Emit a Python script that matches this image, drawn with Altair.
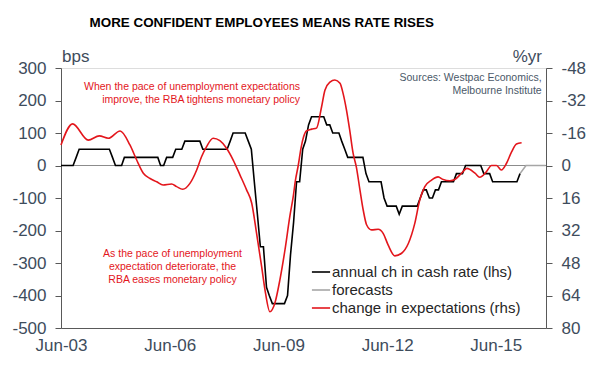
import altair as alt
import pandas as pd

# ---------------- data ----------------
# annual change in cash rate (bps), monthly from Jun-03 to Feb-16
cash_values = (
    [0, 0, 0, 0, 0, 25, 50]                                            # 2003 Jun-Dec
    + [50, 50, 50, 50, 50, 50, 50, 50, 50, 50, 25, 0]                  # 2004
    + [0, 0, 25, 25, 25, 25, 25, 25, 25, 25, 25, 25]                   # 2005
    + [25, 25, 0, 0, 25, 25, 25, 50, 50, 50, 75, 75]                   # 2006
    + [75, 75, 75, 75, 50, 50, 50, 50, 50, 50, 50, 50]                 # 2007
    + [50, 75, 100, 100, 100, 100, 100, 75, 50, -50, -150, -250]       # 2008
    + [-250, -375, -400, -425, -425, -425, -425, -425, -400, -275, -175, -50]  # 2009
    + [-50, 50, 75, 125, 150, 150, 150, 150, 150, 125, 125, 100]       # 2010
    + [100, 100, 75, 50, 25, 25, 25, 25, 25, 25, -25, -50]             # 2011
    + [-50, -50, -50, -50, -100, -125, -125, -125, -125, -150, -125, -125]  # 2012
    + [-125, -125, -125, -125, -100, -75, -75, -100, -100, -75, -75, -50]   # 2013
    + [-50, -50, -50, -50, -25, -25, -25, 0, 0, 0, 0, 0]               # 2014
    + [0, -25, -25, -25, -50, -50, -50, -50, -50, -50, -50, -50]       # 2015
    + [-50, -25]                                                       # 2016 Jan-Feb
)
cash_dates = [d.strftime("%Y-%m-%d") for d in pd.date_range("2003-06-01", periods=len(cash_values), freq="MS")]

# forecasts (bps)
fc_dates = ["2016-02-01", "2016-04-01", "2016-06-01", "2016-08-01", "2016-10-15"]
fc_values = [-25, 0, 0, 0, 0]

# change in unemployment expectations (%yr, rhs, inverted)
red_dates = [
    "2003-06-01", "2003-09-26", "2004-03-02", "2004-06-21", "2004-09-20", "2005-01-17",
    "2005-04-26", "2005-07-03", "2005-09-08", "2005-11-15", "2006-01-21", "2006-03-26",
    "2006-06-20", "2006-08-10", "2006-10-10", "2006-12-22", "2007-02-28", "2007-04-18",
    "2007-06-08", "2007-08-13", "2007-10-20", "2007-12-26", "2008-03-02", "2008-05-09",
    "2008-07-15", "2008-09-05", "2008-10-24", "2008-12-14", "2009-01-17", "2009-03-07",
    "2009-04-26", "2009-06-16", "2009-08-06", "2009-09-25", "2009-10-28", "2009-11-20",
    "2009-12-18", "2010-01-15", "2010-02-10", "2010-03-11", "2010-05-01", "2010-06-20",
    "2010-08-10", "2010-09-13", "2010-11-03", "2010-12-22", "2011-02-12", "2011-03-15",
    "2011-04-18", "2011-05-21", "2011-06-24", "2011-07-27", "2011-09-01", "2011-10-04",
    "2011-11-08", "2011-12-27", "2012-03-03", "2012-04-22", "2012-06-12", "2012-08-18",
    "2012-10-25", "2013-01-01", "2013-03-07", "2013-04-26", "2013-06-16", "2013-08-23",
    "2013-10-28", "2013-12-18", "2014-02-25", "2014-04-14", "2014-06-21", "2014-08-14",
    "2014-11-04", "2014-12-22", "2015-02-28", "2015-04-19", "2015-06-09", "2015-07-28",
    "2015-09-18", "2015-11-08", "2015-12-27", "2016-02-17",
]
red_values = [
    -10.1, -20.5, -12.5, -14.6, -13.4, -17.0,
    -10.1, -2.7, 3.8, 6.4, 8.0, 9.6,
    9.1, 10.4, 11.7, 8.8, 2.2, -4.3,
    -9.3, -13.4, -12.2, -8.5, -2.7, 4.6,
    12.0, 18.6, 33.4, 49.8, 61.3, 72.0,
    67.8, 56.3, 41.6, 24.8, 15.5, 7.2,
    0.0, -8.6, -14.1, -17.0, -17.9, -18.4,
    -28.8, -37.1, -41.1, -42.1, -40.5, -35.5,
    -27.4, -17.4, -6.1, 0.8, 12.0, 21.9,
    29.3, 31.7, 31.4, 33.4, 39.2, 44.5,
    43.2, 38.4, 28.5, 17.0, 10.4, 7.2,
    5.6, 6.9, 7.5, 6.9, 3.8, 1.4,
    3.8, 5.8, 3.0, 0.0, 0.0, 2.2,
    -1.1, -6.7, -10.6, -11.2,
]

series_names = ["annual ch in cash rate (lhs)", "forecasts", "change in expectations (rhs)"]
series_colors = ["#000000", "#A6A6A6", "#E3161C"]
series_widths = [1.6, 1.6, 3.4]

left_ticks = [-500, -400, -300, -200, -100, 0, 100, 200, 300]
right_ticks = [-48, -32, -16, 0, 16, 32, 48, 64, 80]
x_tick_years = [2003, 2006, 2009, 2012, 2015]
zero_level = [0]

cash_df = pd.DataFrame({"date": cash_dates, "value": cash_values, "series": series_names[0]})
fc_df = pd.DataFrame({"date": fc_dates, "value": fc_values, "series": series_names[1]})
red_df = pd.DataFrame({"date": red_dates, "value": red_values, "series": series_names[2]})
zero_df = pd.DataFrame({"value": zero_level})
dummy = pd.DataFrame({"a": [0]})

# ---------------- styles ----------------
AXIS_COL = "#3E4C5C"
LINE_COL = "#595959"
FONT = "Liberation Sans"

x_enc = alt.X(
    "date:T",
    scale=alt.Scale(
        type="utc",
        domain=[alt.DateTime(year=2003, month=6, date=1, utc=True),
                alt.DateTime(year=2016, month=10, date=20, utc=True)],
    ),
    axis=alt.Axis(
        values=[alt.DateTime(year=y, month=6, date=1, utc=True) for y in x_tick_years],
        format="%b-%y", ticks=False, grid=False, title=None,
        labelFontSize=17, labelFont=FONT, labelColor=AXIS_COL, labelPadding=9,
        domainColor=LINE_COL, labelFlush=False, labelOverlap=False,
    ),
)

legend = alt.Legend(
    orient="none", legendX=250, legendY=194, symbolType="stroke", symbolSize=330,
    labelFontSize=15, labelFont=FONT, labelColor="#262626", rowPadding=-1,
    labelOffset=1, padding=0, labelLimit=0, title=None,
)
color_enc = alt.Color("series:N", scale=alt.Scale(domain=series_names, range=series_colors), legend=legend)
width_enc = alt.StrokeWidth("series:N", scale=alt.Scale(domain=series_names, range=series_widths), legend=legend)

y_left = alt.Y(
    "value:Q",
    scale=alt.Scale(domain=[-500, 300], nice=False, zero=False),
    axis=alt.Axis(values=left_ticks, labelExpr="datum.value + ''", grid=False, title=None,
                  tickSize=6, tickColor=LINE_COL, domainColor=LINE_COL, labelOverlap=False,
                  labelFontSize=17, labelFont=FONT, labelColor=AXIS_COL, labelPadding=9),
)
y_right = alt.Y(
    "value:Q",
    scale=alt.Scale(domain=[-48, 80], nice=False, zero=False, reverse=True),
    axis=alt.Axis(orient="right", values=right_ticks, labelExpr="datum.value + ''", grid=False, title=None,
                  tickSize=6, tickColor=LINE_COL, domainColor=LINE_COL, labelOverlap=False,
                  labelFontSize=17, labelFont=FONT, labelColor=AXIS_COL, labelPadding=9),
)

zero_rule = alt.Chart(zero_df).mark_rule(color="#8C8C8C", strokeWidth=1).encode(y=y_left)
cash_line = alt.Chart(cash_df).mark_line(interpolate="linear").encode(
    x=x_enc, y=y_left, color=color_enc, strokeWidth=width_enc)
fc_line = alt.Chart(fc_df).mark_line(interpolate="linear").encode(
    x=x_enc, y=y_left, color=color_enc, strokeWidth=width_enc)
left = alt.layer(zero_rule, fc_line, cash_line)

red_line = alt.Chart(red_df).mark_line(interpolate="monotone").encode(
    x=x_enc, y=y_right, color=color_enc, strokeWidth=width_enc)


def label(text, x, y, size, color, align="left", weight="normal", font=FONT, baseline="middle"):
    return alt.Chart(dummy).mark_text(
        align=align, baseline=baseline, fontSize=size, font=font, fontWeight=weight, color=color
    ).encode(x=alt.value(x), y=alt.value(y), text=alt.value(text))


RED_TXT = "#E3161C"
texts = [
    label("MORE CONFIDENT EMPLOYEES MEANS RATE RISES", 200.7, -45.5, 13.4, "#000000",
          align="center", weight="bold"),
    label("bps", 1, -6, 17, AXIS_COL, baseline="alphabetic"),
    label("%yr", 481, -6, 17, AXIS_COL, align="right", baseline="alphabetic"),
    label("Sources: Westpac Economics,", 480.7, 10.3, 10.5, "#4A5868", align="right"),
    label("Melbourne Institute", 480.7, 22.7, 10.5, "#4A5868", align="right"),
    label("When the pace of unemployment expectations", 239, 18.7, 10.5, RED_TXT, align="right"),
    label("improve, the RBA tightens monetary policy", 239, 32, 10.5, RED_TXT, align="right"),
    label("As the pace of unemployment", 111.5, 186.3, 10.5, RED_TXT, align="center"),
    label("expectation deteriorate, the", 111.5, 199.3, 10.5, RED_TXT, align="center"),
    label("RBA eases monetary policy", 111.5, 212, 10.5, RED_TXT, align="center"),
]

chart = alt.layer(left, red_line, *texts).resolve_scale(y="independent").properties(
    width=485, height=260, autosize="none",
    padding={"left": 53, "top": 60, "right": 47, "bottom": 31},
).configure_view(stroke=LINE_COL, strokeWidth=1).configure_axis(
    labelOverlap=False
).configure(background="white")

chart.save("out.html", embed_options={"renderer": "svg", "actions": False})
